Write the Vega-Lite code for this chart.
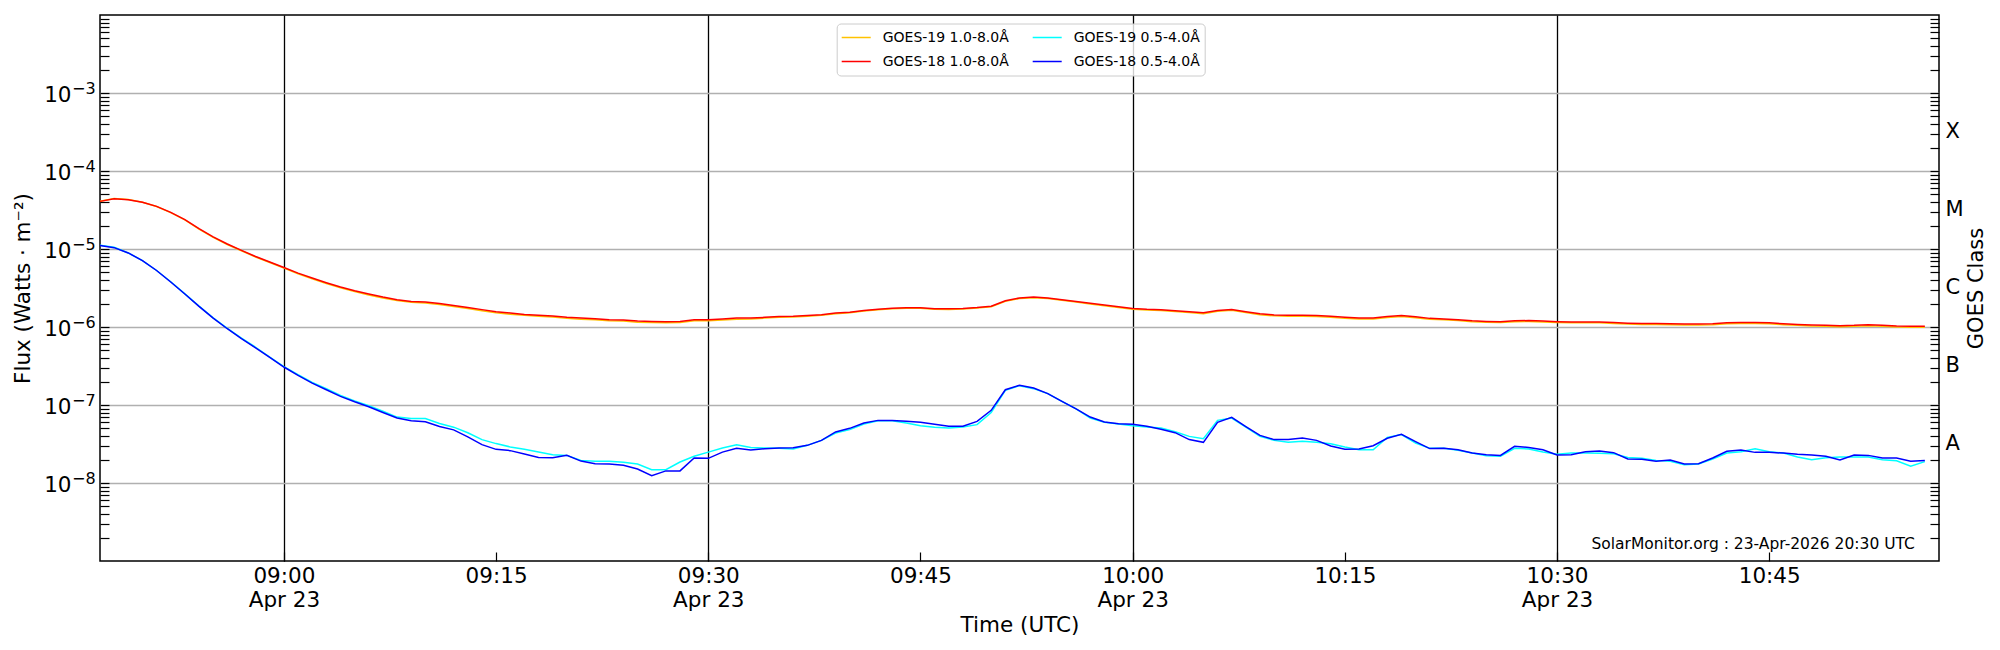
{
  "$schema": "https://vega.github.io/schema/vega-lite/v6.json",
  "width": 1839,
  "height": 546,
  "autosize": "none",
  "padding": {"left": 100, "top": 15, "right": 61, "bottom": 89},
  "background": "white",
  "config": {
    "font": "DejaVu Sans",
    "view": {"stroke": "black", "strokeWidth": 1.5},
    "axis": {"labelColor": "black", "titleColor": "black", "tickColor": "black", "labelFont": "DejaVu Sans", "titleFont": "DejaVu Sans", "titleFontWeight": "normal"}
  },
  "data": {
    "values": [
      {"t": "2026-04-23T08:47:00Z", "a": 4.1e-5, "b": 4.08e-5, "c": 1.12e-5, "d": 1.11e-5},
      {"t": "2026-04-23T08:48:00Z", "a": 4.45e-5, "b": 4.4e-5, "c": 1.05e-5, "d": 1.04e-5},
      {"t": "2026-04-23T08:49:00Z", "a": 4.3e-5, "b": 4.28e-5, "c": 8.9e-6, "d": 8.9e-6},
      {"t": "2026-04-23T08:50:00Z", "a": 3.98e-5, "b": 3.97e-5, "c": 7.1e-6, "d": 7.1e-6},
      {"t": "2026-04-23T08:51:00Z", "a": 3.5e-5, "b": 3.52e-5, "c": 5.3e-6, "d": 5.3e-6},
      {"t": "2026-04-23T08:52:00Z", "a": 2.93e-5, "b": 2.95e-5, "c": 3.8e-6, "d": 3.78e-6},
      {"t": "2026-04-23T08:53:00Z", "a": 2.36e-5, "b": 2.38e-5, "c": 2.66e-6, "d": 2.65e-6},
      {"t": "2026-04-23T08:54:00Z", "a": 1.8e-5, "b": 1.82e-5, "c": 1.85e-6, "d": 1.84e-6},
      {"t": "2026-04-23T08:55:00Z", "a": 1.41e-5, "b": 1.43e-5, "c": 1.31e-6, "d": 1.3e-6},
      {"t": "2026-04-23T08:56:00Z", "a": 1.14e-5, "b": 1.16e-5, "c": 9.6e-7, "d": 9.5e-7},
      {"t": "2026-04-23T08:57:00Z", "a": 9.5e-6, "b": 9.6e-6, "c": 7.2e-7, "d": 7.1e-7},
      {"t": "2026-04-23T08:58:00Z", "a": 7.9e-6, "b": 8.0e-6, "c": 5.5e-7, "d": 5.4e-7},
      {"t": "2026-04-23T08:59:00Z", "a": 6.7e-6, "b": 6.8e-6, "c": 4.1e-7, "d": 4.07e-7},
      {"t": "2026-04-23T09:00:00Z", "a": 5.7e-6, "b": 5.8e-6, "c": 3.1e-7, "d": 3.07e-7},
      {"t": "2026-04-23T09:01:00Z", "a": 4.8e-6, "b": 4.9e-6, "c": 2.45e-7, "d": 2.4e-7},
      {"t": "2026-04-23T09:02:00Z", "a": 4.15e-6, "b": 4.24e-6, "c": 1.95e-7, "d": 1.91e-7},
      {"t": "2026-04-23T09:03:00Z", "a": 3.62e-6, "b": 3.7e-6, "c": 1.62e-7, "d": 1.57e-7},
      {"t": "2026-04-23T09:04:00Z", "a": 3.19e-6, "b": 3.26e-6, "c": 1.33e-7, "d": 1.29e-7},
      {"t": "2026-04-23T09:05:00Z", "a": 2.85e-6, "b": 2.92e-6, "c": 1.13e-7, "d": 1.1e-7},
      {"t": "2026-04-23T09:06:00Z", "a": 2.58e-6, "b": 2.65e-6, "c": 9.8e-8, "d": 9.5e-8},
      {"t": "2026-04-23T09:07:00Z", "a": 2.36e-6, "b": 2.42e-6, "c": 8.3e-8, "d": 8.0e-8},
      {"t": "2026-04-23T09:08:00Z", "a": 2.18e-6, "b": 2.24e-6, "c": 7.0e-8, "d": 6.8e-8},
      {"t": "2026-04-23T09:09:00Z", "a": 2.07e-6, "b": 2.13e-6, "c": 6.7e-8, "d": 6.3e-8},
      {"t": "2026-04-23T09:10:00Z", "a": 2.03e-6, "b": 2.09e-6, "c": 6.7e-8, "d": 6.1e-8},
      {"t": "2026-04-23T09:11:00Z", "a": 1.94e-6, "b": 2.0e-6, "c": 5.8e-8, "d": 5.3e-8},
      {"t": "2026-04-23T09:12:00Z", "a": 1.83e-6, "b": 1.89e-6, "c": 5.2e-8, "d": 4.8e-8},
      {"t": "2026-04-23T09:13:00Z", "a": 1.73e-6, "b": 1.78e-6, "c": 4.4e-8, "d": 3.9e-8},
      {"t": "2026-04-23T09:14:00Z", "a": 1.62e-6, "b": 1.67e-6, "c": 3.6e-8, "d": 3.1e-8},
      {"t": "2026-04-23T09:15:00Z", "a": 1.52e-6, "b": 1.57e-6, "c": 3.2e-8, "d": 2.7e-8},
      {"t": "2026-04-23T09:16:00Z", "a": 1.46e-6, "b": 1.51e-6, "c": 2.9e-8, "d": 2.6e-8},
      {"t": "2026-04-23T09:17:00Z", "a": 1.41e-6, "b": 1.45e-6, "c": 2.7e-8, "d": 2.35e-8},
      {"t": "2026-04-23T09:18:00Z", "a": 1.37e-6, "b": 1.41e-6, "c": 2.49e-8, "d": 2.13e-8},
      {"t": "2026-04-23T09:19:00Z", "a": 1.34e-6, "b": 1.38e-6, "c": 2.31e-8, "d": 2.11e-8},
      {"t": "2026-04-23T09:20:00Z", "a": 1.29e-6, "b": 1.33e-6, "c": 2.26e-8, "d": 2.26e-8},
      {"t": "2026-04-23T09:21:00Z", "a": 1.26e-6, "b": 1.3e-6, "c": 1.95e-8, "d": 1.91e-8},
      {"t": "2026-04-23T09:22:00Z", "a": 1.24e-6, "b": 1.28e-6, "c": 1.9e-8, "d": 1.77e-8},
      {"t": "2026-04-23T09:23:00Z", "a": 1.2e-6, "b": 1.24e-6, "c": 1.9e-8, "d": 1.75e-8},
      {"t": "2026-04-23T09:24:00Z", "a": 1.19e-6, "b": 1.23e-6, "c": 1.84e-8, "d": 1.69e-8},
      {"t": "2026-04-23T09:25:00Z", "a": 1.15e-6, "b": 1.19e-6, "c": 1.75e-8, "d": 1.51e-8},
      {"t": "2026-04-23T09:26:00Z", "a": 1.14e-6, "b": 1.18e-6, "c": 1.48e-8, "d": 1.24e-8},
      {"t": "2026-04-23T09:27:00Z", "a": 1.13e-6, "b": 1.17e-6, "c": 1.48e-8, "d": 1.43e-8},
      {"t": "2026-04-23T09:28:00Z", "a": 1.14e-6, "b": 1.18e-6, "c": 1.86e-8, "d": 1.43e-8},
      {"t": "2026-04-23T09:29:00Z", "a": 1.2e-6, "b": 1.24e-6, "c": 2.2e-8, "d": 2.09e-8},
      {"t": "2026-04-23T09:30:00Z", "a": 1.2e-6, "b": 1.24e-6, "c": 2.49e-8, "d": 2.07e-8},
      {"t": "2026-04-23T09:31:00Z", "a": 1.23e-6, "b": 1.27e-6, "c": 2.81e-8, "d": 2.49e-8},
      {"t": "2026-04-23T09:32:00Z", "a": 1.26e-6, "b": 1.3e-6, "c": 3.1e-8, "d": 2.78e-8},
      {"t": "2026-04-23T09:33:00Z", "a": 1.27e-6, "b": 1.3e-6, "c": 2.86e-8, "d": 2.65e-8},
      {"t": "2026-04-23T09:34:00Z", "a": 1.3e-6, "b": 1.33e-6, "c": 2.81e-8, "d": 2.75e-8},
      {"t": "2026-04-23T09:35:00Z", "a": 1.33e-6, "b": 1.36e-6, "c": 2.78e-8, "d": 2.8e-8},
      {"t": "2026-04-23T09:36:00Z", "a": 1.34e-6, "b": 1.37e-6, "c": 2.73e-8, "d": 2.84e-8},
      {"t": "2026-04-23T09:37:00Z", "a": 1.37e-6, "b": 1.4e-6, "c": 3.04e-8, "d": 3.04e-8},
      {"t": "2026-04-23T09:38:00Z", "a": 1.41e-6, "b": 1.44e-6, "c": 3.52e-8, "d": 3.52e-8},
      {"t": "2026-04-23T09:39:00Z", "a": 1.48e-6, "b": 1.51e-6, "c": 4.38e-8, "d": 4.51e-8},
      {"t": "2026-04-23T09:40:00Z", "a": 1.52e-6, "b": 1.55e-6, "c": 4.83e-8, "d": 5.02e-8},
      {"t": "2026-04-23T09:41:00Z", "a": 1.6e-6, "b": 1.63e-6, "c": 5.71e-8, "d": 5.87e-8},
      {"t": "2026-04-23T09:42:00Z", "a": 1.66e-6, "b": 1.69e-6, "c": 6.29e-8, "d": 6.35e-8},
      {"t": "2026-04-23T09:43:00Z", "a": 1.71e-6, "b": 1.74e-6, "c": 6.29e-8, "d": 6.35e-8},
      {"t": "2026-04-23T09:44:00Z", "a": 1.74e-6, "b": 1.77e-6, "c": 5.87e-8, "d": 6.17e-8},
      {"t": "2026-04-23T09:45:00Z", "a": 1.74e-6, "b": 1.77e-6, "c": 5.43e-8, "d": 6.0e-8},
      {"t": "2026-04-23T09:46:00Z", "a": 1.69e-6, "b": 1.72e-6, "c": 5.17e-8, "d": 5.65e-8},
      {"t": "2026-04-23T09:47:00Z", "a": 1.68e-6, "b": 1.71e-6, "c": 5.07e-8, "d": 5.33e-8},
      {"t": "2026-04-23T09:48:00Z", "a": 1.7e-6, "b": 1.73e-6, "c": 5.22e-8, "d": 5.33e-8},
      {"t": "2026-04-23T09:49:00Z", "a": 1.75e-6, "b": 1.78e-6, "c": 5.6e-8, "d": 6.17e-8},
      {"t": "2026-04-23T09:50:00Z", "a": 1.82e-6, "b": 1.85e-6, "c": 8.0e-8, "d": 8.55e-8},
      {"t": "2026-04-23T09:51:00Z", "a": 2.13e-6, "b": 2.17e-6, "c": 1.54e-7, "d": 1.57e-7},
      {"t": "2026-04-23T09:52:00Z", "a": 2.32e-6, "b": 2.36e-6, "c": 1.77e-7, "d": 1.79e-7},
      {"t": "2026-04-23T09:53:00Z", "a": 2.38e-6, "b": 2.42e-6, "c": 1.62e-7, "d": 1.65e-7},
      {"t": "2026-04-23T09:54:00Z", "a": 2.32e-6, "b": 2.36e-6, "c": 1.4e-7, "d": 1.4e-7},
      {"t": "2026-04-23T09:55:00Z", "a": 2.2e-6, "b": 2.24e-6, "c": 1.11e-7, "d": 1.11e-7},
      {"t": "2026-04-23T09:56:00Z", "a": 2.09e-6, "b": 2.13e-6, "c": 8.9e-8, "d": 8.9e-8},
      {"t": "2026-04-23T09:57:00Z", "a": 1.97e-6, "b": 2.01e-6, "c": 6.8e-8, "d": 7.0e-8},
      {"t": "2026-04-23T09:58:00Z", "a": 1.87e-6, "b": 1.91e-6, "c": 6.0e-8, "d": 6.05e-8},
      {"t": "2026-04-23T09:59:00Z", "a": 1.78e-6, "b": 1.82e-6, "c": 5.71e-8, "d": 5.77e-8},
      {"t": "2026-04-23T10:00:00Z", "a": 1.69e-6, "b": 1.73e-6, "c": 5.43e-8, "d": 5.65e-8},
      {"t": "2026-04-23T10:01:00Z", "a": 1.65e-6, "b": 1.69e-6, "c": 5.22e-8, "d": 5.33e-8},
      {"t": "2026-04-23T10:02:00Z", "a": 1.63e-6, "b": 1.67e-6, "c": 5.07e-8, "d": 4.88e-8},
      {"t": "2026-04-23T10:03:00Z", "a": 1.58e-6, "b": 1.62e-6, "c": 4.55e-8, "d": 4.42e-8},
      {"t": "2026-04-23T10:04:00Z", "a": 1.53e-6, "b": 1.57e-6, "c": 3.96e-8, "d": 3.6e-8},
      {"t": "2026-04-23T10:05:00Z", "a": 1.48e-6, "b": 1.52e-6, "c": 3.7e-8, "d": 3.32e-8},
      {"t": "2026-04-23T10:06:00Z", "a": 1.59e-6, "b": 1.63e-6, "c": 6.35e-8, "d": 6.0e-8},
      {"t": "2026-04-23T10:07:00Z", "a": 1.64e-6, "b": 1.68e-6, "c": 6.8e-8, "d": 6.95e-8},
      {"t": "2026-04-23T10:08:00Z", "a": 1.53e-6, "b": 1.57e-6, "c": 5.2e-8, "d": 5.3e-8},
      {"t": "2026-04-23T10:09:00Z", "a": 1.44e-6, "b": 1.48e-6, "c": 3.96e-8, "d": 4.08e-8},
      {"t": "2026-04-23T10:10:00Z", "a": 1.39e-6, "b": 1.43e-6, "c": 3.52e-8, "d": 3.6e-8},
      {"t": "2026-04-23T10:11:00Z", "a": 1.37e-6, "b": 1.41e-6, "c": 3.32e-8, "d": 3.6e-8},
      {"t": "2026-04-23T10:12:00Z", "a": 1.37e-6, "b": 1.41e-6, "c": 3.42e-8, "d": 3.78e-8},
      {"t": "2026-04-23T10:13:00Z", "a": 1.36e-6, "b": 1.4e-6, "c": 3.32e-8, "d": 3.52e-8},
      {"t": "2026-04-23T10:14:00Z", "a": 1.33e-6, "b": 1.37e-6, "c": 3.19e-8, "d": 2.98e-8},
      {"t": "2026-04-23T10:15:00Z", "a": 1.29e-6, "b": 1.33e-6, "c": 2.9e-8, "d": 2.7e-8},
      {"t": "2026-04-23T10:16:00Z", "a": 1.27e-6, "b": 1.3e-6, "c": 2.67e-8, "d": 2.73e-8},
      {"t": "2026-04-23T10:17:00Z", "a": 1.27e-6, "b": 1.3e-6, "c": 2.67e-8, "d": 3.01e-8},
      {"t": "2026-04-23T10:18:00Z", "a": 1.32e-6, "b": 1.36e-6, "c": 3.85e-8, "d": 3.74e-8},
      {"t": "2026-04-23T10:19:00Z", "a": 1.36e-6, "b": 1.4e-6, "c": 4.17e-8, "d": 4.2e-8},
      {"t": "2026-04-23T10:20:00Z", "a": 1.31e-6, "b": 1.35e-6, "c": 3.26e-8, "d": 3.39e-8},
      {"t": "2026-04-23T10:21:00Z", "a": 1.26e-6, "b": 1.29e-6, "c": 2.78e-8, "d": 2.76e-8},
      {"t": "2026-04-23T10:22:00Z", "a": 1.24e-6, "b": 1.27e-6, "c": 2.78e-8, "d": 2.78e-8},
      {"t": "2026-04-23T10:23:00Z", "a": 1.21e-6, "b": 1.24e-6, "c": 2.62e-8, "d": 2.67e-8},
      {"t": "2026-04-23T10:24:00Z", "a": 1.17e-6, "b": 1.2e-6, "c": 2.42e-8, "d": 2.42e-8},
      {"t": "2026-04-23T10:25:00Z", "a": 1.15e-6, "b": 1.18e-6, "c": 2.24e-8, "d": 2.31e-8},
      {"t": "2026-04-23T10:26:00Z", "a": 1.14e-6, "b": 1.17e-6, "c": 2.2e-8, "d": 2.26e-8},
      {"t": "2026-04-23T10:27:00Z", "a": 1.17e-6, "b": 1.2e-6, "c": 2.78e-8, "d": 2.95e-8},
      {"t": "2026-04-23T10:28:00Z", "a": 1.18e-6, "b": 1.21e-6, "c": 2.73e-8, "d": 2.86e-8},
      {"t": "2026-04-23T10:29:00Z", "a": 1.16e-6, "b": 1.19e-6, "c": 2.49e-8, "d": 2.67e-8},
      {"t": "2026-04-23T10:30:00Z", "a": 1.14e-6, "b": 1.17e-6, "c": 2.33e-8, "d": 2.29e-8},
      {"t": "2026-04-23T10:31:00Z", "a": 1.13e-6, "b": 1.16e-6, "c": 2.42e-8, "d": 2.31e-8},
      {"t": "2026-04-23T10:32:00Z", "a": 1.13e-6, "b": 1.16e-6, "c": 2.42e-8, "d": 2.52e-8},
      {"t": "2026-04-23T10:33:00Z", "a": 1.13e-6, "b": 1.16e-6, "c": 2.4e-8, "d": 2.57e-8},
      {"t": "2026-04-23T10:34:00Z", "a": 1.11e-6, "b": 1.14e-6, "c": 2.37e-8, "d": 2.45e-8},
      {"t": "2026-04-23T10:35:00Z", "a": 1.09e-6, "b": 1.12e-6, "c": 2.13e-8, "d": 2.03e-8},
      {"t": "2026-04-23T10:36:00Z", "a": 1.08e-6, "b": 1.11e-6, "c": 2.07e-8, "d": 2.01e-8},
      {"t": "2026-04-23T10:37:00Z", "a": 1.08e-6, "b": 1.11e-6, "c": 1.95e-8, "d": 1.9e-8},
      {"t": "2026-04-23T10:38:00Z", "a": 1.07e-6, "b": 1.1e-6, "c": 1.9e-8, "d": 1.97e-8},
      {"t": "2026-04-23T10:39:00Z", "a": 1.06e-6, "b": 1.09e-6, "c": 1.72e-8, "d": 1.75e-8},
      {"t": "2026-04-23T10:40:00Z", "a": 1.06e-6, "b": 1.09e-6, "c": 1.75e-8, "d": 1.77e-8},
      {"t": "2026-04-23T10:41:00Z", "a": 1.07e-6, "b": 1.1e-6, "c": 2.03e-8, "d": 2.09e-8},
      {"t": "2026-04-23T10:42:00Z", "a": 1.1e-6, "b": 1.13e-6, "c": 2.42e-8, "d": 2.55e-8},
      {"t": "2026-04-23T10:43:00Z", "a": 1.11e-6, "b": 1.14e-6, "c": 2.52e-8, "d": 2.65e-8},
      {"t": "2026-04-23T10:44:00Z", "a": 1.11e-6, "b": 1.14e-6, "c": 2.75e-8, "d": 2.47e-8},
      {"t": "2026-04-23T10:45:00Z", "a": 1.1e-6, "b": 1.13e-6, "c": 2.52e-8, "d": 2.47e-8},
      {"t": "2026-04-23T10:46:00Z", "a": 1.07e-6, "b": 1.1e-6, "c": 2.42e-8, "d": 2.42e-8},
      {"t": "2026-04-23T10:47:00Z", "a": 1.05e-6, "b": 1.08e-6, "c": 2.15e-8, "d": 2.33e-8},
      {"t": "2026-04-23T10:48:00Z", "a": 1.03e-6, "b": 1.06e-6, "c": 1.99e-8, "d": 2.29e-8},
      {"t": "2026-04-23T10:49:00Z", "a": 1.02e-6, "b": 1.05e-6, "c": 2.11e-8, "d": 2.2e-8},
      {"t": "2026-04-23T10:50:00Z", "a": 1.01e-6, "b": 1.04e-6, "c": 2.15e-8, "d": 1.97e-8},
      {"t": "2026-04-23T10:51:00Z", "a": 1.02e-6, "b": 1.05e-6, "c": 2.15e-8, "d": 2.29e-8},
      {"t": "2026-04-23T10:52:00Z", "a": 1.04e-6, "b": 1.07e-6, "c": 2.15e-8, "d": 2.26e-8},
      {"t": "2026-04-23T10:53:00Z", "a": 1.02e-6, "b": 1.05e-6, "c": 1.99e-8, "d": 2.09e-8},
      {"t": "2026-04-23T10:54:00Z", "a": 1.0e-6, "b": 1.03e-6, "c": 1.93e-8, "d": 2.09e-8},
      {"t": "2026-04-23T10:55:00Z", "a": 9.9e-7, "b": 1.02e-6, "c": 1.64e-8, "d": 1.9e-8},
      {"t": "2026-04-23T10:56:00Z", "a": 9.9e-7, "b": 1.02e-6, "c": 1.88e-8, "d": 1.95e-8}
    ]
  },
  "layer": [
    {
      "transform": [{"fold": ["a", "b", "c", "d"], "as": ["s", "f"]}],
      "mark": {"type": "line", "strokeWidth": 1.5},
      "encoding": {
        "x": {
          "field": "t", "type": "temporal",
          "scale": {"type": "utc", "nice": false, "domain": [{"year": 2026, "month": 4, "date": 23, "hours": 8, "minutes": 47, "utc": true}, {"year": 2026, "month": 4, "date": 23, "hours": 10, "minutes": 57, "utc": true}]},
          "axis": {
            "orient": "bottom",
            "values": [
              {"year": 2026, "month": 4, "date": 23, "hours": 9, "minutes": 0, "utc": true},
              {"year": 2026, "month": 4, "date": 23, "hours": 9, "minutes": 15, "utc": true},
              {"year": 2026, "month": 4, "date": 23, "hours": 9, "minutes": 30, "utc": true},
              {"year": 2026, "month": 4, "date": 23, "hours": 9, "minutes": 45, "utc": true},
              {"year": 2026, "month": 4, "date": 23, "hours": 10, "minutes": 0, "utc": true},
              {"year": 2026, "month": 4, "date": 23, "hours": 10, "minutes": 15, "utc": true},
              {"year": 2026, "month": 4, "date": 23, "hours": 10, "minutes": 30, "utc": true},
              {"year": 2026, "month": 4, "date": 23, "hours": 10, "minutes": 45, "utc": true}
            ],
            "ticks": false, "grid": false, "domain": false,
            "labelExpr": "utcminutes(datum.value) % 30 == 0 ? [utcFormat(datum.value, '%H:%M'), utcFormat(datum.value, '%b %d')] : utcFormat(datum.value, '%H:%M')",
            "labelFontSize": 21.5, "labelPadding": 4, "labelBaseline": "top", "labelLineHeight": 24,
            "labelOverlap": false, "labelFlush": false,
            "title": "Time (UTC)", "titleFontSize": 21.5, "titlePadding": 4
          }
        },
        "y": {
          "field": "f", "type": "quantitative",
          "scale": {"type": "log", "nice": false, "domain": [1e-9, 1e-2]},
          "axis": {
            "orient": "left",
            "values": [1e-8, 1e-7, 1e-6, 1e-5, 1e-4, 1e-3],
            "ticks": false, "domain": false,
            "grid": true, "gridColor": "#b0b0b0", "gridWidth": 1.3,
            "labelExpr": "'10'", "labelFontSize": 21.5, "labelPadding": 29,
            "labelBaseline": "alphabetic", "labelOffset": 8, "labelOverlap": false,
            "title": "Flux (Watts · m⁻²)", "titleFontSize": 21.5, "titlePadding": 9
          }
        },
        "color": {
          "field": "s", "type": "nominal",
          "scale": {"domain": ["a", "b", "c", "d"], "range": ["#ffc200", "#ff0000", "#00ffff", "#0000ff"]},
          "legend": {
            "title": null, "orient": "none", "legendX": 736.7, "legendY": 8.5,
            "columns": 2, "columnPadding": 22, "rowPadding": 4, "padding": 4, "clipHeight": 20,
            "symbolType": "stroke", "symbolSize": 841, "symbolStrokeWidth": 1.5,
            "labelFontSize": 14, "labelOffset": 11, "labelFont": "DejaVu Sans", "labelColor": "black", "labelLimit": 300,
            "fillColor": "rgba(255,255,255,0.8)", "strokeColor": "#cccccc", "cornerRadius": 4,
            "labelExpr": "datum.label == 'a' ? 'GOES-19 1.0-8.0Å' : datum.label == 'b' ? 'GOES-18 1.0-8.0Å' : datum.label == 'c' ? 'GOES-19 0.5-4.0Å' : 'GOES-18 0.5-4.0Å'"
          }
        }
      }
    },
    {
      "mark": {"type": "point", "opacity": 0, "size": 0},
      "encoding": {
        "x": {
          "field": "t", "type": "temporal",
          "scale": {"type": "utc", "nice": false, "domain": [{"year": 2026, "month": 4, "date": 23, "hours": 8, "minutes": 47, "utc": true}, {"year": 2026, "month": 4, "date": 23, "hours": 10, "minutes": 57, "utc": true}]},
          "axis": {
            "orient": "bottom",
            "values": [
              {"year": 2026, "month": 4, "date": 23, "hours": 9, "minutes": 0, "utc": true},
              {"year": 2026, "month": 4, "date": 23, "hours": 9, "minutes": 15, "utc": true},
              {"year": 2026, "month": 4, "date": 23, "hours": 9, "minutes": 30, "utc": true},
              {"year": 2026, "month": 4, "date": 23, "hours": 9, "minutes": 45, "utc": true},
              {"year": 2026, "month": 4, "date": 23, "hours": 10, "minutes": 0, "utc": true},
              {"year": 2026, "month": 4, "date": 23, "hours": 10, "minutes": 15, "utc": true},
              {"year": 2026, "month": 4, "date": 23, "hours": 10, "minutes": 30, "utc": true},
              {"year": 2026, "month": 4, "date": 23, "hours": 10, "minutes": 45, "utc": true}
            ],
            "ticks": true, "tickSize": -9, "tickWidth": 1.2,
            "labels": false, "grid": false, "domain": false, "title": null
          }
        },
        "y": {
          "field": "b", "type": "quantitative",
          "scale": {"type": "log", "nice": false, "domain": [1e-9, 1e-2]},
          "axis": {
            "orient": "left",
            "values": [1e-8, 1e-7, 1e-6, 1e-5, 1e-4, 1e-3],
            "ticks": false, "domain": false, "grid": false,
            "labelExpr": "'−' + (-round(log(datum.value) / LN10))",
            "labelFontSize": 16, "labelAlign": "left", "labelPadding": 28.5,
            "labelBaseline": "alphabetic", "labelOffset": 0, "labelOverlap": false,
            "title": null
          }
        }
      }
    },
    {
      "mark": {"type": "point", "opacity": 0, "size": 0},
      "encoding": {
        "x": {
          "field": "t", "type": "temporal",
          "scale": {"type": "utc", "nice": false, "domain": [{"year": 2026, "month": 4, "date": 23, "hours": 8, "minutes": 47, "utc": true}, {"year": 2026, "month": 4, "date": 23, "hours": 10, "minutes": 57, "utc": true}]},
          "axis": {
            "orient": "bottom",
            "values": [
              {"year": 2026, "month": 4, "date": 23, "hours": 9, "minutes": 0, "utc": true},
              {"year": 2026, "month": 4, "date": 23, "hours": 9, "minutes": 30, "utc": true},
              {"year": 2026, "month": 4, "date": 23, "hours": 10, "minutes": 0, "utc": true},
              {"year": 2026, "month": 4, "date": 23, "hours": 10, "minutes": 30, "utc": true}
            ],
            "ticks": false, "labels": false, "domain": false,
            "grid": true, "gridColor": "black", "gridWidth": 1.3, "gridOpacity": 1,
            "title": null
          }
        },
        "y": {
          "field": "b", "type": "quantitative",
          "scale": {"type": "log", "nice": false, "domain": [1e-9, 1e-2]},
          "axis": {
            "orient": "left",
            "values": [2e-9, 3e-9, 4e-9, 5e-9, 6e-9, 7e-9, 8e-9, 9e-9, 1e-8, 2e-8, 3e-8, 4e-8, 5e-8, 6e-8, 7e-8, 8e-8, 9e-8, 1e-7, 2e-7, 3e-7, 4e-7, 5e-7, 6e-7, 7e-7, 8e-7, 9e-7, 1e-6, 2e-6, 3e-6, 4e-6, 5e-6, 6e-6, 7e-6, 8e-6, 9e-6, 1e-5, 2e-5, 3e-5, 4e-5, 5e-5, 6e-5, 7e-5, 8e-5, 9e-5, 1e-4, 2e-4, 3e-4, 4e-4, 5e-4, 6e-4, 7e-4, 8e-4, 9e-4, 1e-3, 2e-3, 3e-3, 4e-3, 5e-3, 6e-3, 7e-3, 8e-3, 9e-3],
            "ticks": true, "tickSize": -9, "tickWidth": 1.2,
            "labels": false, "grid": false, "domain": false, "title": null
          }
        }
      }
    },
    {
      "mark": {"type": "point", "opacity": 0, "size": 0},
      "encoding": {
        "x": {
          "field": "t", "type": "temporal",
          "scale": {"type": "utc", "nice": false, "domain": [{"year": 2026, "month": 4, "date": 23, "hours": 8, "minutes": 47, "utc": true}, {"year": 2026, "month": 4, "date": 23, "hours": 10, "minutes": 57, "utc": true}]},
          "axis": null
        },
        "y": {
          "field": "b", "type": "quantitative",
          "scale": {"type": "log", "nice": false, "domain": [1e-9, 1e-2]},
          "axis": {
            "orient": "right",
            "values": [2e-9, 3e-9, 4e-9, 5e-9, 6e-9, 7e-9, 8e-9, 9e-9, 1e-8, 2e-8, 3e-8, 4e-8, 5e-8, 6e-8, 7e-8, 8e-8, 9e-8, 1e-7, 2e-7, 3e-7, 4e-7, 5e-7, 6e-7, 7e-7, 8e-7, 9e-7, 1e-6, 2e-6, 3e-6, 4e-6, 5e-6, 6e-6, 7e-6, 8e-6, 9e-6, 1e-5, 2e-5, 3e-5, 4e-5, 5e-5, 6e-5, 7e-5, 8e-5, 9e-5, 1e-4, 2e-4, 3e-4, 4e-4, 5e-4, 6e-4, 7e-4, 8e-4, 9e-4, 1e-3, 2e-3, 3e-3, 4e-3, 5e-3, 6e-3, 7e-3, 8e-3, 9e-3],
            "ticks": true, "tickSize": -9, "tickWidth": 1.2,
            "labels": false, "grid": false, "domain": false, "title": null
          }
        }
      }
    },
    {
      "mark": {"type": "point", "opacity": 0, "size": 0},
      "encoding": {
        "x": {
          "field": "t", "type": "temporal",
          "scale": {"type": "utc", "nice": false, "domain": [{"year": 2026, "month": 4, "date": 23, "hours": 8, "minutes": 47, "utc": true}, {"year": 2026, "month": 4, "date": 23, "hours": 10, "minutes": 57, "utc": true}]},
          "axis": null
        },
        "y": {
          "field": "b", "type": "quantitative",
          "scale": {"type": "log", "nice": false, "domain": [1e-9, 1e-2]},
          "axis": {
            "orient": "right",
            "values": [3.1623e-8, 3.1623e-7, 3.1623e-6, 3.1623e-5, 3.1623e-4],
            "ticks": false, "grid": false, "domain": false,
            "labelExpr": "datum.value > 1e-4 ? 'X' : datum.value > 1e-5 ? 'M' : datum.value > 1e-6 ? 'C' : datum.value > 1e-7 ? 'B' : 'A'",
            "labelFontSize": 21, "labelPadding": 6, "labelAlign": "left", "labelBaseline": "middle", "labelOverlap": false,
            "title": "GOES Class", "titleFontSize": 21, "titleAngle": -90, "titleBaseline": "top", "titlePadding": 2
          }
        }
      }
    },
    {
      "data": {"values": [{"note": "SolarMonitor.org : 23-Apr-2026 20:30 UTC"}]},
      "mark": {"type": "text", "align": "right", "baseline": "alphabetic", "fontSize": 15.5, "font": "DejaVu Sans", "color": "black"},
      "encoding": {
        "x": {"datum": {"year": 2026, "month": 4, "date": 23, "hours": 10, "minutes": 55, "seconds": 18, "utc": true}, "type": "temporal", "axis": null},
        "y": {"datum": 1.41e-9, "type": "quantitative", "axis": null},
        "text": {"field": "note"}
      }
    }
  ],
  "resolve": {"axis": {"x": "independent", "y": "independent"}}
}
